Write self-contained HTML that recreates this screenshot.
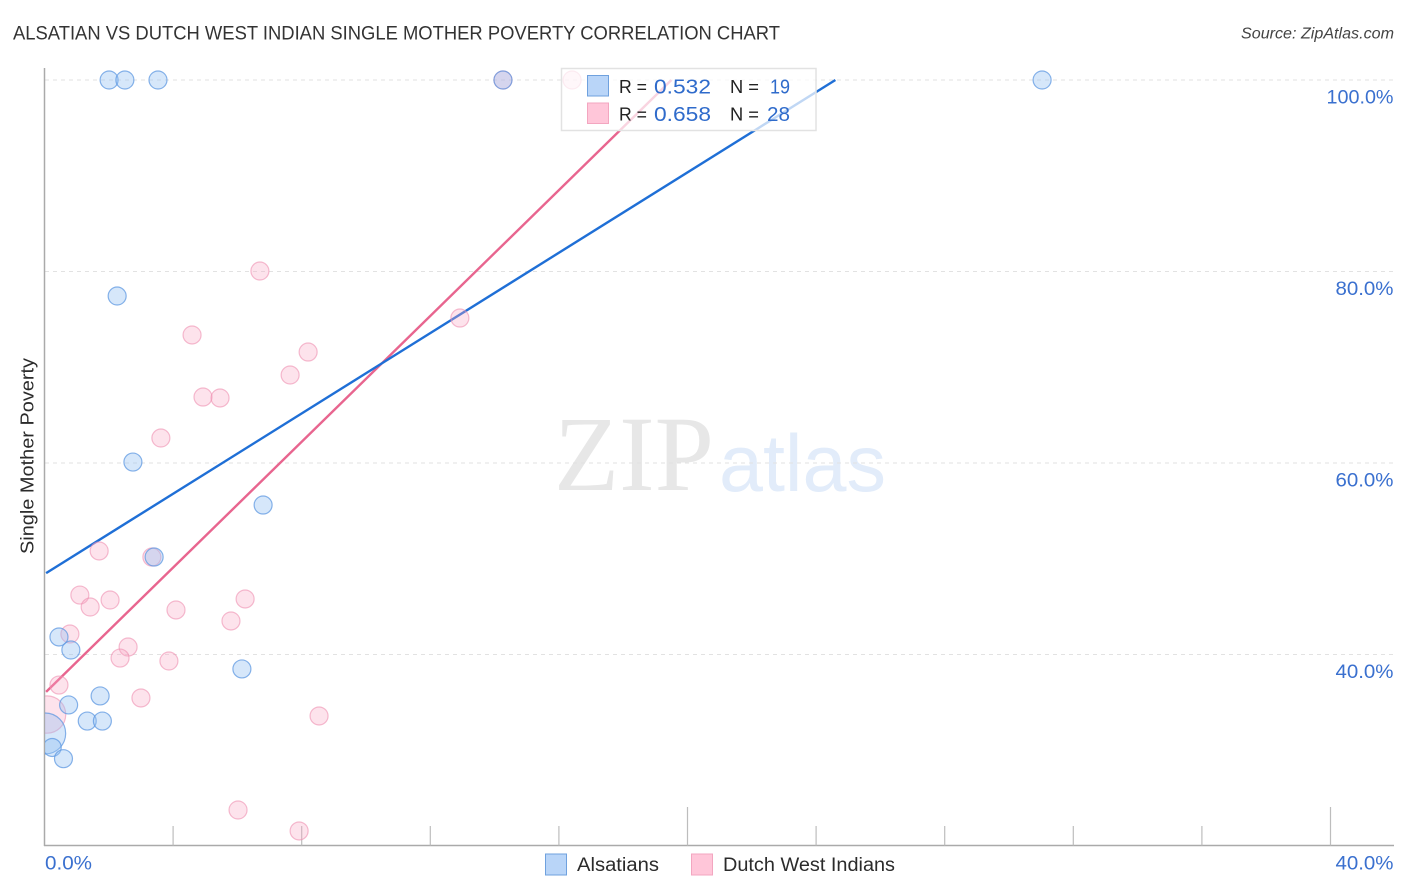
<!DOCTYPE html>
<html lang="en">
<head>
<meta charset="utf-8">
<title>Alsatian vs Dutch West Indian Single Mother Poverty Correlation Chart</title>
<style>
html,body{margin:0;padding:0;background:#fff;width:1406px;height:892px;overflow:hidden}
svg{display:block}
text{font-family:"Liberation Sans",sans-serif}
</style>
</head>
<body>
<svg id="chart" xmlns="http://www.w3.org/2000/svg" width="1406" height="892" viewBox="0 0 1406 892">
  <defs>
    <clipPath id="plot-clip"><rect x="45" y="60" width="1349" height="786"/></clipPath>
  </defs>
  <rect x="0" y="0" width="1406" height="892" fill="#fff"/>
  <text x="13" y="39.5" font-size="19.5" fill="#333" textLength="767" lengthAdjust="spacingAndGlyphs">ALSATIAN VS DUTCH WEST INDIAN SINGLE MOTHER POVERTY CORRELATION CHART</text>
  <text x="1394" y="38.5" font-size="15.5" font-style="italic" fill="#444" text-anchor="end" textLength="153" lengthAdjust="spacingAndGlyphs">Source: ZipAtlas.com</text>
  <text x="554" y="490" font-size="107" fill="#e7e7e7" textLength="160" lengthAdjust="spacingAndGlyphs" style="font-family:'Liberation Serif',serif">ZIP</text>
  <text x="719" y="491" font-size="81" fill="#e2ecfa" textLength="167" lengthAdjust="spacingAndGlyphs">atlas</text>
  <g id="grid"></g>
  <g id="axes"></g>
  <g id="trends" clip-path="url(#plot-clip)"></g>
  <g id="points" clip-path="url(#plot-clip)"></g>
  <g id="labels"></g>

  <text transform="translate(33.5,456) rotate(-90)" font-size="18" fill="#2b2b2b" text-anchor="middle" textLength="196" lengthAdjust="spacingAndGlyphs">Single Mother Poverty</text>

  <g>
    <rect x="561.5" y="68.5" width="254.5" height="62" fill="#fff" fill-opacity="0.72" stroke="#e2e2e2" stroke-width="1.5"/>
    <rect x="587.5" y="75.5" width="21" height="20.5" fill="#b9d5f8" stroke="#6fa1de" stroke-width="1"/>
    <rect x="587.5" y="103" width="21" height="20.5" fill="#ffc6d9" stroke="#f3a6c0" stroke-width="1"/>
    <text x="619" y="93" font-size="18.5" fill="#222" textLength="28" lengthAdjust="spacingAndGlyphs">R =</text>
    <text x="654" y="93.5" font-size="20" fill="#2f6bcb" textLength="57" lengthAdjust="spacingAndGlyphs">0.532</text>
    <text x="730" y="93" font-size="18.5" fill="#222" textLength="29" lengthAdjust="spacingAndGlyphs">N =</text>
    <text x="770" y="93.5" font-size="20" fill="#2f6bcb" textLength="20" lengthAdjust="spacingAndGlyphs">19</text>
    <text x="619" y="120.5" font-size="18.5" fill="#222" textLength="28" lengthAdjust="spacingAndGlyphs">R =</text>
    <text x="654" y="121" font-size="20" fill="#2f6bcb" textLength="57" lengthAdjust="spacingAndGlyphs">0.658</text>
    <text x="730" y="120.5" font-size="18.5" fill="#222" textLength="29" lengthAdjust="spacingAndGlyphs">N =</text>
    <text x="767" y="121" font-size="20" fill="#2f6bcb" textLength="23" lengthAdjust="spacingAndGlyphs">28</text>
  </g>

  <g>
    <rect x="545.5" y="854" width="21" height="21" fill="#b9d5f8" stroke="#6fa1de" stroke-width="1"/>
    <text x="577" y="871" font-size="19" fill="#2b2b2b" textLength="82" lengthAdjust="spacingAndGlyphs">Alsatians</text>
    <rect x="691.5" y="854" width="21" height="21" fill="#ffc6d9" stroke="#f3a6c0" stroke-width="1"/>
    <text x="723" y="871" font-size="19" fill="#2b2b2b" textLength="172" lengthAdjust="spacingAndGlyphs">Dutch West Indians</text>
  </g>
</svg>
<script>
var yGridValues = [100, 80, 60, 40];
var yTickLabels = ["100.0%", "80.0%", "60.0%", "40.0%"];
var xTickValues = [0, 4, 8, 12, 16, 20, 24, 28, 32, 36, 40];
var xMajorTicks = [0, 20, 40];
var xEndValues = [0, 40];
var xEndLabels = ["0.0%", "40.0%"];

var alsatianX = [2.01, 2.50, 3.53, 14.26, 31.03, 2.26, 2.75, 6.80, 3.41, 0.45, 0.82, 6.14, 1.73, 0.75, 1.33, 1.80, 0.02, 0.24, 0.59];
var alsatianY = [100, 100, 100, 100, 100, 77.44, 60.10, 55.61, 50.18, 41.83, 40.47, 38.49, 35.67, 34.73, 33.05, 33.05, 31.75, 30.29, 29.12];
var alsatianWeight = [1, 1, 1, 1, 1, 1, 1, 1, 1, 1, 1, 1, 1, 1, 1, 1, 5.2, 1, 1];

var dutchX = [16.41, 14.26, 6.70, 4.59, 8.20, 7.64, 12.92, 4.93, 5.46, 3.62, 1.70, 3.34, 1.10, 1.42, 2.04, 4.09, 6.24, 5.80, 0.79, 2.60, 2.35, 3.87, 3.00, 0.45, 8.54, 0.08, 6.02, 7.92];
var dutchY = [100, 100, 80.05, 73.37, 71.59, 69.19, 75.14, 66.89, 66.79, 62.61, 50.81, 50.18, 46.21, 44.96, 45.69, 44.65, 45.80, 43.50, 42.14, 40.78, 39.63, 39.32, 35.46, 36.81, 33.58, 33.73, 23.76, 21.57];
var dutchWeight = [1, 1, 1, 1, 1, 1, 1, 1, 1, 1, 1, 1, 1, 1, 1, 1, 1, 1, 1, 1, 1, 1, 1, 1, 1, 4.3, 1, 1];

var alsatianTrendX = [0.05, 24.6];
var alsatianTrendY = [48.5, 100];
var dutchTrendX = [0.05, 19.5];
var dutchTrendY = [36.1, 100];

var NS = "http://www.w3.org/2000/svg";
function xScale(v) { return 44.5 + v * 32.15; }
function yScale(v) { return 80 + (100 - v) * 9.575; }
function rScale(w) { return 9 * Math.sqrt(w); }
function mk(tag, attrs, parent, txt) {
  var el = document.createElementNS(NS, tag);
  for (var k in attrs) { el.setAttribute(k, attrs[k]); }
  if (txt !== undefined) { el.textContent = txt; }
  parent.appendChild(el);
  return el;
}
var gridG = document.getElementById("grid");
var axesG = document.getElementById("axes");
var trendG = document.getElementById("trends");
var pointG = document.getElementById("points");
var labelG = document.getElementById("labels");

yGridValues.forEach(function (v, i) {
  var g = mk("line", {x1: 45, x2: 1394, y1: yScale(v), y2: yScale(v), stroke: "#e2e2e2", "stroke-width": 1, "stroke-dasharray": "4 4"}, gridG);
  
  
  var t = mk("text", {x: 1393.5, y: yScale(v) + 23.5, "font-size": 19, fill: "#3a70cf", "text-anchor": "end", textLength: yTickLabels[i].length > 5 ? 67 : 58, lengthAdjust: "spacingAndGlyphs"}, labelG, yTickLabels[i]);
  
  
});

var yAxis = mk("line", {x1: 44.5, x2: 44.5, y1: 68, y2: 846, stroke: "#aaaaaa", "stroke-width": 1.5}, axesG);


var xAxis = mk("line", {x1: 44, x2: 1394, y1: 845.5, y2: 845.5, stroke: "#aaaaaa", "stroke-width": 1.5}, axesG);



xTickValues.forEach(function (v) {
  if (v === 0) { return; }
  var top = xMajorTicks.indexOf(v) >= 0 ? 807 : 826;
  var tick = mk("line", {x1: xScale(v), x2: xScale(v), y1: top, y2: 845.5, stroke: "#bdbdbd", "stroke-width": 1.2}, axesG);
  
  
});

xEndValues.forEach(function (v, i) {
  var attrs = i === 0
    ? {x: xScale(v) + 0.5, y: 869.5, "font-size": 19, fill: "#3a70cf", textLength: 47, lengthAdjust: "spacingAndGlyphs"}
    : {x: 1393.5, y: 869.5, "font-size": 19, fill: "#3a70cf", "text-anchor": "end", textLength: 58, lengthAdjust: "spacingAndGlyphs"};
  var t = mk("text", attrs, labelG, xEndLabels[i]);
  
  
});

var dutchLine = mk("line", {x1: xScale(dutchTrendX[0]), y1: yScale(dutchTrendY[0]), x2: xScale(dutchTrendX[1]), y2: yScale(dutchTrendY[1]), stroke: "#e8658f", "stroke-width": 2.4}, trendG);


var alsLine = mk("line", {x1: xScale(alsatianTrendX[0]), y1: yScale(alsatianTrendY[0]), x2: xScale(alsatianTrendX[1]), y2: yScale(alsatianTrendY[1]), stroke: "#1f6fd6", "stroke-width": 2.4}, trendG);



dutchX.forEach(function (v, i) {
  var c = mk("circle", {cx: xScale(v), cy: yScale(dutchY[i]), r: rScale(dutchWeight[i]), fill: "#f9a8c4", "fill-opacity": 0.32, stroke: "#ee8fb0", "stroke-opacity": 0.6, "stroke-width": 1.2}, pointG);
  
  
});
alsatianX.forEach(function (v, i) {
  var c = mk("circle", {cx: xScale(v), cy: yScale(alsatianY[i]), r: rScale(alsatianWeight[i]), fill: "#94bff2", "fill-opacity": 0.38, stroke: "#5a96e0", "stroke-opacity": 0.72, "stroke-width": 1.2}, pointG);
  
  
});
</script>
</body>
</html>
